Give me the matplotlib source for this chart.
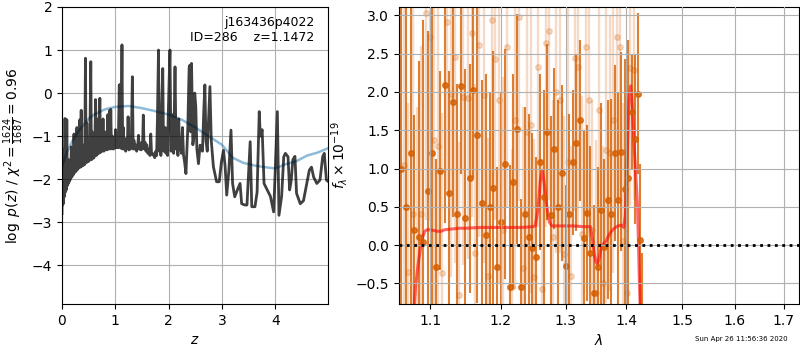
import matplotlib
matplotlib.use('Agg')
import matplotlib.pyplot as plt
import matplotlib.ticker as ticker

# ──────────────────────────────────────────────────────────────
# p(z) panel data
# ──────────────────────────────────────────────────────────────
zgrid = [0.000, 0.008, 0.015, 0.022, 0.030, 0.040, 0.048, 0.056, 0.064, 0.072,
         0.080, 0.090, 0.100, 0.110, 0.120, 0.130, 0.140, 0.150, 0.160, 0.175,
         0.185, 0.200, 0.210, 0.225, 0.235, 0.250, 0.262, 0.280, 0.290, 0.305,
         0.318, 0.335, 0.345, 0.360, 0.372, 0.385, 0.398, 0.412, 0.425, 0.440,
         0.452, 0.465, 0.478, 0.490, 0.505, 0.520, 0.540, 0.552, 0.565, 0.580,
         0.600, 0.612, 0.630, 0.645, 0.660, 0.675, 0.690, 0.710, 0.722, 0.740,
         0.755, 0.770, 0.785, 0.800, 0.815, 0.830, 0.845, 0.860, 0.875, 0.895,
         0.905, 0.915, 0.928, 0.945, 0.960, 0.975, 0.990, 1.005, 1.020, 1.040,
         1.055, 1.075, 1.085, 1.095, 1.105, 1.115, 1.125, 1.138, 1.150, 1.165,
         1.180, 1.195, 1.210, 1.225, 1.240, 1.255, 1.270, 1.285, 1.300, 1.320,
         1.335, 1.350, 1.365, 1.380, 1.400, 1.420, 1.435, 1.450, 1.465, 1.480,
         1.495, 1.510, 1.525, 1.540, 1.560, 1.575, 1.590, 1.610, 1.630, 1.650,
         1.665, 1.680, 1.700, 1.720, 1.740, 1.760, 1.775, 1.790, 1.810, 1.825,
         1.840, 1.855, 1.870, 1.890, 1.905, 1.920, 1.935, 1.950, 1.965, 1.980,
         1.995, 2.025, 2.045, 2.060, 2.075, 2.095, 2.120, 2.140, 2.160, 2.175,
         2.190, 2.205, 2.220, 2.240, 2.260, 2.280, 2.300, 2.325, 2.340, 2.360,
         2.385, 2.400, 2.415, 2.430, 2.455, 2.475, 2.490, 2.510, 2.530, 2.560,
         2.590, 2.610, 2.635, 2.660, 2.680, 2.700, 2.725, 2.750, 2.775, 2.800,
         2.840, 2.900, 2.950, 2.990, 3.030, 3.060, 3.090, 3.130, 3.170, 3.200,
         3.240, 3.290, 3.340, 3.370, 3.430, 3.470, 3.530, 3.560, 3.620, 3.660,
         3.700, 3.720, 3.755, 3.790, 3.850, 3.910, 3.970, 4.000, 4.040, 4.070,
         4.120, 4.160, 4.190, 4.240, 4.270, 4.300, 4.330, 4.370, 4.400, 4.470,
         4.530, 4.580, 4.640, 4.680, 4.720, 4.780, 4.840, 4.890, 4.920, 4.960,
         4.990]
log_pz = [-2.80, -1.35, -2.60, -2.20, -2.55, -1.30, -2.40, -0.59, -2.30, -1.60,
          -2.25, -0.62, -2.15, -1.80, -2.10, -1.55, -2.05, -1.90, -2.00, -1.25,
          -1.95, -1.40, -1.90, -0.95, -1.85, -1.20, -1.82, -0.80, -1.78, -1.05,
          -1.74, -0.62, -1.72, -0.40, -1.70, -1.20, -1.68, -1.50, -1.66, 0.81,
          -1.62, -0.70, -1.60, -1.15, -1.58, -1.30, 0.73, -1.55, -0.90, -1.52,
          -1.50, -1.45, -0.15, -1.45, -1.42, -0.60, -1.40, -0.12, -1.38, -1.00,
          -1.35, -0.60, -1.35, -0.90, -1.32, -1.00, -1.32, -0.50, -1.30, -0.40,
          -1.30, -0.38, -1.28, -1.00, -1.30, -1.10, -1.28, -0.85, -1.27, -1.10,
          -1.27, 0.19, -1.25, 0.20, -1.28, -0.20, 1.12, -1.30, -0.80, -1.30,
          -1.10, -1.35, -1.05, -1.25, -0.55, -1.32, -1.00, -1.30, -1.15, 0.38,
          -1.30, -1.10, -1.30, -1.20, -1.35, -1.25, -0.98, -1.30, -1.25, -1.32,
          -1.15, -1.30, -0.51, -1.28, -1.15, -1.35, -1.20, -1.40, -1.30, -1.45,
          -0.95, -1.42, -1.40, -1.45, -1.50, -1.35, -1.45, -0.60, 1.00, -1.35,
          -1.00, -1.45, -0.30, 0.57, -1.35, -1.20, -0.80, -1.40, -1.10, -1.45,
          -0.40, 1.00, -1.35, -1.25, -0.50, -1.40, 0.61, -1.30, -1.10, -1.45,
          -0.60, -1.30, -1.20, -1.40, -0.80, -1.45, -1.60, -1.87, -1.40, -0.80,
          0.60, 0.65, -0.90, 0.69, -1.20, -1.00, 0.00, -0.32, -1.30, -1.64,
          -1.21, -1.25, -1.35, -0.40, 0.19, -1.10, -1.35, -0.60, 0.15, -1.10,
          -1.71, -2.06, -2.06, -1.60, -1.33, -1.70, -2.37, -1.80, -0.86, -2.10,
          -2.41, -2.25, -2.10, -2.57, -2.60, -2.60, -1.13, -2.64, -2.64, -2.30,
          -0.43, -1.00, -0.85, -2.10, -2.25, -2.40, -2.76, -1.80, -0.43, -2.84,
          -2.40, -1.48, -1.40, -1.48, -2.25, -2.03, -1.55, -1.47, -2.33, -2.57,
          -2.50, -2.18, -1.79, -1.72, -1.95, -2.10, -2.02, -1.48, -1.40, -2.02,
          -2.05]

prior_z = [0.00, 0.10, 0.20, 0.30, 0.40, 0.50, 0.60, 0.80, 1.00, 1.25, 1.50,
           1.75, 2.00, 2.25, 2.50, 2.75, 3.00, 3.10, 3.20, 3.40, 3.60, 3.80,
           4.00, 4.20, 4.40, 4.60, 4.80, 4.99]
prior_logp = [-1.70, -1.35, -1.10, -0.90, -0.75, -0.60, -0.50, -0.38, -0.32,
              -0.30, -0.35, -0.42, -0.50, -0.62, -0.80, -1.00, -1.20, -1.35,
              -1.50, -1.62, -1.68, -1.72, -1.75, -1.65, -1.58, -1.45, -1.38,
              -1.28]

# ──────────────────────────────────────────────────────────────
# spectrum panel data (micron, flux x 1e-19)
# ──────────────────────────────────────────────────────────────
wave_a = [1.062, 1.068, 1.074, 1.079, 1.085, 1.091, 1.097, 1.102, 1.108, 1.114,
          1.120, 1.126, 1.131, 1.137, 1.143, 1.149, 1.155, 1.160, 1.166, 1.172,
          1.178, 1.184, 1.189, 1.195, 1.201, 1.207, 1.213, 1.218, 1.224, 1.230,
          1.236, 1.242, 1.247, 1.253, 1.259, 1.265, 1.271, 1.276, 1.282, 1.288,
          1.294, 1.300, 1.305, 1.311, 1.317, 1.323, 1.329, 1.334, 1.340, 1.346,
          1.352, 1.358, 1.363, 1.369, 1.375, 1.381, 1.387, 1.392, 1.398, 1.404,
          1.410, 1.416, 1.421, 1.424, 1.427]
flux_a = [1.00, 0.50, 1.20, 0.20, 0.10, 0.04, 0.70, 1.20, -0.28, 0.97,
          2.09, 0.68, 1.87, 0.41, 2.08, 0.35, 0.87, 2.03, 1.44, 0.55,
          0.13, 0.50, 0.74, -0.28, 0.30, 1.06, -0.55, 0.83, 1.52, -0.55,
          0.41, 0.11, -0.04, -0.15, 1.08, 0.63, 1.48, 0.39, 1.26, 0.50,
          0.94, -0.27, 0.41, 1.08, 1.33, 1.63, 0.09, 0.42, -0.11, -0.63,
          -0.28, 0.46, -0.02, 0.59, 0.41, 1.20, 0.59, 1.22, 0.73, 0.88,
          1.74, 1.38, 1.98, 0.06, -1.10]
err_a = [5.0, 5.0, 4.5, 1.5, 2.3, 2.9, 2.1, 2.3, 1.4, 1.3,
         1.8, 1.6, 1.5, 1.7, 1.15, 1.95, 1.5, 1.15, 2.2, 1.6,
         2.1, 1.5, 1.8, 1.3, 1.7, 1.5, 1.6, 1.4, 1.5, 1.15,
         1.4, 1.6, 1.5, 1.3, 1.15, 1.4, 1.15, 1.3, 1.05, 1.4,
         1.15, 1.05, 1.3, 0.95, 1.15, 1.05, 1.4, 1.15, 1.4, 1.15,
         1.3, 1.4, 1.15, 1.3, 1.5, 1.15, 1.4, 1.3, 1.7, 1.8,
         0.75, 1.10, 1.05, 1.00, 1.00]

wave_b = [1.065, 1.071, 1.077, 1.082, 1.088, 1.094, 1.100, 1.105, 1.111, 1.117,
          1.123, 1.129, 1.134, 1.140, 1.146, 1.152, 1.158, 1.163, 1.169, 1.175,
          1.181, 1.187, 1.192, 1.198, 1.204, 1.210, 1.216, 1.221, 1.227, 1.233,
          1.239, 1.245, 1.250, 1.256, 1.262, 1.268, 1.274, 1.279, 1.285, 1.291,
          1.297, 1.303, 1.308, 1.314, 1.320, 1.326, 1.332, 1.337, 1.343, 1.349,
          1.355, 1.361, 1.366, 1.372, 1.378, 1.384, 1.390, 1.395, 1.401, 1.407,
          1.413]
flux_b = [1.05, -0.35, 0.40, -0.90, 0.40, 3.03, 2.72, 1.37, 1.30, -0.37,
          2.92, 1.98, 2.46, -0.65, 1.94, 1.92, 2.77, -0.10, 2.61, 1.96,
          -0.40, 2.94, 2.43, 1.90, 0.20, 2.59, -0.55, 1.63, 2.98, -0.30,
          1.48, 1.57, -0.42, 2.33, -0.58, 2.64, 2.79, 0.10, 2.00, 1.90,
          -0.12, 1.09, -0.40, 2.44, 2.33, 0.15, 2.59, 1.90, 0.20, -0.63,
          1.76, -0.50, 1.24, 1.20, 1.63, 2.72, 2.59, 0.05, -0.63, 2.31,
          2.29]
err_b = [3.5, 2.2, 3.0, 2.7, 2.2, 2.7, 2.4, 2.5, 2.2, 2.1,
         2.2, 2.4, 2.7, 2.0, 2.2, 2.1, 2.4, 2.2, 2.5, 2.2,
         1.8, 2.2, 2.1, 2.4, 2.0, 2.1, 1.8, 2.2, 2.4, 2.1,
         2.0, 2.2, 1.8, 2.1, 1.7, 2.4, 2.2, 1.8, 2.1, 2.0,
         1.8, 2.1, 1.7, 2.0, 2.1, 1.8, 2.2, 1.8, 1.7, 2.0,
         1.8, 1.8, 2.0, 1.8, 2.0, 2.1, 2.0, 1.8, 2.0, 1.8,
         1.7]

model_wave = [1.078, 1.081, 1.084, 1.087, 1.090, 1.093, 1.096, 1.100, 1.105,
              1.110, 1.115, 1.120, 1.130, 1.140, 1.150, 1.170, 1.200, 1.230,
              1.248, 1.252, 1.256, 1.260, 1.263, 1.266, 1.270, 1.274, 1.278,
              1.290, 1.310, 1.330, 1.340, 1.343, 1.346, 1.349, 1.352, 1.355,
              1.358, 1.362, 1.366, 1.370, 1.375, 1.380, 1.386, 1.392, 1.396,
              1.399, 1.402, 1.405, 1.408, 1.411, 1.414, 1.417, 1.420, 1.423,
              1.425]
model_flux = [-0.90, -0.50, -0.25, -0.05, 0.10, 0.18, 0.20, 0.20, 0.19,
              0.18, 0.18, 0.20, 0.21, 0.22, 0.22, 0.23, 0.23, 0.23,
              0.24, 0.25, 0.45, 0.85, 0.97, 0.80, 0.50, 0.30, 0.25,
              0.25, 0.25, 0.24, 0.24, 0.10, -0.10, -0.22, -0.25, -0.15,
              -0.02, 0.02, 0.05, 0.12, 0.18, 0.22, 0.25, 0.26, 0.23,
              0.40, 1.20, 1.90, 2.08, 1.80, 1.30, 0.90, 0.50, -0.40,
              -0.90]

G141_COLOR = (0.8352941, 0.3686274, 0.0)

# ──────────────────────────────────────────────────────────────
fig = plt.figure(figsize=(8, 3.5), dpi=100)

ax = fig.add_axes([0.0775, 0.1314, 0.3325, 0.8486])
ax.plot(prior_z, prior_logp, color='tab:blue', alpha=0.5, linewidth=1.8)
ax.plot(zgrid, log_pz, color='k', alpha=0.75, linewidth=2)
ax.set_xlim(0, 4.99)
ax.set_ylim(-4.9, 2.0)
ax.set_xticks([0, 1, 2, 3, 4])
ax.set_yticks([-4, -3, -2, -1, 0, 1, 2])
ax.grid()
ax.set_xlabel(r'$z$')
ax.set_ylabel(r'$\log\ p(z)$' + ' / ' + r'$\chi^2=\frac{1624}{1687}=0.96$')
ax.text(0.95, 0.97, 'j163436p4022\nID=286    z=1.1472',
        ha='right', va='top', transform=ax.transAxes, fontsize=9)

ax2 = fig.add_axes([0.49875, 0.1314, 0.5, 0.8486])
ax2.set_axisbelow(False)
ax2.errorbar(wave_b, flux_b, err_b, marker='o', markersize=4,
             linestyle='None', color=G141_COLOR, alpha=0.22,
             elinewidth=1.7)
ax2.errorbar(wave_a, flux_a, err_a, marker='o', markersize=4,
             linestyle='None', color=G141_COLOR, alpha=0.8,
             elinewidth=1.5)
ax2.plot(model_wave, model_flux, color='r', alpha=0.6, linewidth=2.2)
ax2.axhline(0, color='k', linestyle=':', linewidth=2, zorder=10)

ax2.set_xscale('log')
ax2.set_xlim(1.0588, 1.732)
ax2.set_ylim(-0.77, 3.11)
ax2.xaxis.set_major_locator(ticker.FixedLocator([1.1, 1.2, 1.3, 1.4, 1.5, 1.6, 1.7]))
ax2.xaxis.set_major_formatter(ticker.FormatStrFormatter('%.1f'))
ax2.xaxis.set_minor_locator(ticker.NullLocator())
ax2.set_yticks([-0.5, 0.0, 0.5, 1.0, 1.5, 2.0, 2.5, 3.0])
ax2.grid()
ax2.set_xlabel(r'$\lambda$')
ax2.set_ylabel(r'$f_\lambda\times10^{-19}$')

fig.text(0.985, 0.031, 'Sun Apr 26 11:56:36 2020', ha='right', va='center',
         fontsize=5)

fig.savefig('out.png', dpi=100)
